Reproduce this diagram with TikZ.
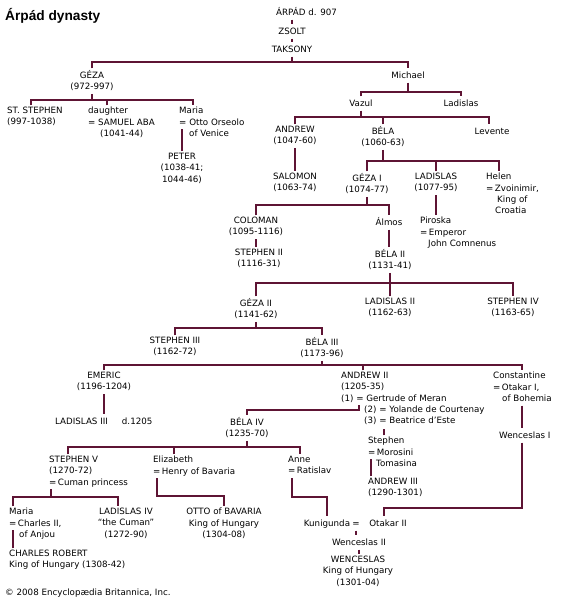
\documentclass[tikz,border=0pt]{standalone}
\usepackage{fontspec}
\setmainfont{DejaVu Sans}
\newfontfamily\titlefont{Liberation Sans}
\usetikzlibrary{calc}
\definecolor{lin}{RGB}{94,20,52}
\newcommand{\fsz}{\fontsize{8.7}{11.3}\selectfont}
\tikzset{
  basetext/.style={inner xsep=0pt, inner ysep=1.5pt, font=\fsz, yshift=6.6pt,
    execute at begin node={\rule{0pt}{8.3pt}},
    execute at end node={\rule[-2.6pt]{0pt}{2.6pt}}},
  C/.style={basetext, anchor=north, align=center},
  L/.style={basetext, anchor=north west, align=left},
  titletext/.style={anchor=base west, inner sep=0pt, font=\titlefont\fontsize{13.7}{16}\selectfont\bfseries},
  conn/.style={draw=lin, line width=2.4pt, line join=miter}
}
\begin{document}
\begin{tikzpicture}[x=1pt,y=-1pt]
\fill[white] (0,0) rectangle (560,600);
\useasboundingbox (0,0) rectangle (560,600);

\node[titletext] (title) at (5,20) {Árpád dynasty};
\node[L] (arpad) at (276,12) {ÁRPÁD d. 907};
\node[C] (zsolt) at (292,31) {ZSOLT};
\node[C] (taksony) at (292,49) {TAKSONY};
\node[C] (geza) at (92,75) {GÉZA\\(972-997)};
\node[C] (michael) at (408,75) {Michael};
\node[L] (ststephen) at (7,112) {ST. STEPHEN\\(997-1038)};
\node[L] (daughter) at (88,112) {daughter\\= SAMUEL ABA\\\hspace*{12pt}(1041-44)};
\node[L] (maria1) at (179,112) {Maria\\= Otto Orseolo\\\hspace*{10pt}of Venice};
\node[C] (peter) at (182,158) {PETER\\(1038-41;\\1044-46)};
\node[C] (vazul) at (361,103) {Vazul};
\node[C] (ladislasM) at (461,103) {Ladislas};
\node[C] (andrew1) at (295,131) {ANDREW\\(1047-60)};
\node[C] (bela1) at (383,131) {BÉLA\\(1060-63)};
\node[C] (levente) at (492,131) {Levente};
\node[C] (salomon) at (295,178) {SALOMON\\(1063-74)};
\node[C] (geza1) at (367,178) {GÉZA I\\(1074-77)};
\node[C] (ladislas1) at (436,178) {LADISLAS\\(1077-95)};
\node[L] (helen) at (486,178) {Helen\\=\,Zvoinimir,\\\hspace*{11pt}King of\\\hspace*{9pt}Croatia};
\node[C] (coloman) at (256,222) {COLOMAN\\(1095-1116)};
\node[C] (almos) at (389,222) {Álmos};
\node[L] (piroska) at (420,222) {Piroska\\=\,Emperor\\\hspace*{8pt}John Comnenus};
\node[C] (stephen2) at (259,254) {STEPHEN II\\(1116-31)};
\node[C] (bela2) at (390,254) {BÉLA II\\(1131-41)};
\node[C] (geza2) at (256,303) {GÉZA II\\(1141-62)};
\node[C] (ladislas2) at (390,303) {LADISLAS II\\(1162-63)};
\node[C] (stephen4) at (513,303) {STEPHEN IV\\(1163-65)};
\node[C] (stephen3) at (175,342) {STEPHEN III\\(1162-72)};
\node[C] (bela3) at (322,342) {BÉLA III\\(1173-96)};
\node[C] (emeric) at (104,377) {EMERIC\\(1196-1204)};
\node[L] (ladislas3) at (55,421) {LADISLAS III\hspace{14pt}d.1205};
\node[L] (andrew2) at (341,377) {ANDREW II\\(1205-35)\\(1) = Gertrude of Meran\\\hspace*{23pt}(2) = Yolande de Courtenay\\\hspace*{23pt}(3) = Beatrice d’Este};
\node[L] (constantine) at (493,377) {Constantine\\=\,Otakar I,\\\hspace*{9pt}of Bohemia};
\node[C] (bela4) at (247,422) {BÉLA IV\\(1235-70)};
\node[L] (wenceslas1) at (499,435) {Wenceslas I};
\node[L] (stephenM) at (368,442) {Stephen\\=\,Morosini\\\hspace*{8pt}Tomasina};
\node[L] (andrew3) at (368,483) {ANDREW III\\(1290-1301)};
\node[L] (stephen5) at (49,461) {STEPHEN V\\(1270-72)\\=\,Cuman princess};
\node[L] (elizabeth) at (153,461) {Elizabeth\\=\,Henry of Bavaria};
\node[L] (anne) at (288,461) {Anne\\=\,Ratislav};
\node[L] (maria2) at (9,513) {Maria\\=\,Charles II,\\\hspace*{10pt}of Anjou};
\node[C] (ladislas4) at (126,513) {LADISLAS IV\\“the Cuman”\\(1272-90)};
\node[C] (otto) at (224,513) {OTTO of BAVARIA\\King of Hungary\\(1304-08)};
\node[L] (charles) at (9,555) {CHARLES ROBERT\\King of Hungary (1308-42)};
\node[C] (kunigunda) at (327,523) {Kunigunda};
\node[C] (eq) at (356,523) {=};
\node[C] (otakar2) at (388,523) {Otakar II};
\node[C] (wenceslas2) at (359,542) {Wenceslas II};
\node[C] (wenceslas3) at (358,561) {WENCESLAS\\King of Hungary\\(1301-04)};
\node[L] (copy) at (5,592) {© 2008 Encyclopædia Britannica, Inc.};

% bus levels
\coordinate (bA) at (0,62);
\coordinate (bB) at (0,100);
\coordinate (bC) at (0,92);
\coordinate (bD) at (0,117);
\coordinate (bE) at (0,161);
\coordinate (bF) at (0,205);
\coordinate (bG) at (0,283);
\coordinate (bH) at (0,328);
\coordinate (bI) at (0,365);
\coordinate (bJ) at (0,447);
\coordinate (bK) at (0,497);
\coordinate (bL) at (0,496);
\coordinate (bW) at (0,508);
% drop points
\coordinate (dSt) at ($(ststephen.north west)+(24,0)$);
\coordinate (dDa) at ($(daughter.north west)+(19,0)$);
\coordinate (dMa) at ($(maria1.north west)+(14,0)$);
\coordinate (dLe) at ($(levente.north)+(-3,0)$);
\coordinate (dHe) at ($(helen.north west)+(13,0)$);
\coordinate (dAn2) at ($(andrew2.north west)+(22,0)$);
\coordinate (dCo) at ($(constantine.north west)+(29,0)$);
\coordinate (a2one) at ($(andrew2.north west)+(18,34.6)$);
\coordinate (a2three) at ($(stephenM.north west)+(16,0)$);
\coordinate (dWe) at ($(wenceslas1.north west)+(23,0)$);
\coordinate (dOt) at ($(otakar2.north)+(-4,0)$);
\coordinate (dA3) at ($(andrew3.north west)+(3,0)$);
\coordinate (dS5) at ($(stephen5.north west)+(19,0)$);
\coordinate (dEl) at ($(elizabeth.north west)+(21,0)$);
\coordinate (dAnne) at ($(anne.north west)+(12,0)$);
\coordinate (sS5) at ($(stephen5.south west)+(2,0)$);
\coordinate (dM2) at ($(maria2.north west)+(4,0)$);
\coordinate (dL4) at ($(ladislas4.north)+(-8,0)$);
\coordinate (dCh) at ($(charles.north west)+(4,0)$);
\coordinate (sEl) at ($(elizabeth.south west)+(4,0)$);
\coordinate (sAn) at ($(anne.south west)+(4,0)$);
\coordinate (dL3) at ($(ladislas3.north west)+(49,0)$);

\begin{scope}[conn]
\draw (arpad.south -| zsolt.north) -- (zsolt.north);
\draw (zsolt.south) -- (taksony.north);
\draw (taksony.south) -- (taksony.south |- bA);
\draw (geza.north) |- (michael.north |- bA) -- (michael.north);
\draw (geza.south) -- (geza.south |- bB);
\draw (dSt) |- (dMa |- bB) -- (dMa);
\draw (dDa) -- (dDa |- bB);
\draw (peter.north) -- ++(0,-22);
\draw (michael.south) -- (michael.south |- bC);
\draw (vazul.north) |- (ladislasM.north |- bC) -- (ladislasM.north);
\draw (vazul.south) -- (vazul.south |- bD);
\draw (andrew1.north) |- (dLe |- bD) -- (dLe);
\draw (bela1.north) -- (bela1.north |- bD);
\draw (andrew1.south) -- (salomon.north);
\draw (bela1.south) -- (bela1.south |- bE);
\draw (geza1.north) |- (dHe |- bE) -- (dHe);
\draw (ladislas1.north) -- (ladislas1.north |- bE);
\draw (geza1.south) -- (geza1.south |- bF);
\draw (coloman.north) |- (almos.north |- bF) -- (almos.north);
\draw (ladislas1.south) -- (ladislas1.south |- piroska.north);
\draw (coloman.south) -- (coloman.south |- stephen2.north);
\draw (almos.south) -- (almos.south |- bela2.north);
\draw (bela2.south) -- (bela2.south |- bG);
\draw (geza2.north) |- (stephen4.north |- bG) -- (stephen4.north);
\draw (ladislas2.north) -- (ladislas2.north |- bG);
\draw (geza2.south) -- (geza2.south |- bH);
\draw (stephen3.north) |- (bela3.north |- bH) -- (bela3.north);
\draw (bela3.south) -- (bela3.south |- bI);
\draw (emeric.north) |- (dCo |- bI) -- (dCo);
\draw (dAn2) -- (dAn2 |- bI);
\draw (emeric.south) -- (emeric.south |- dL3);
\draw (a2one) -- ++(0,5) -| (bela4.north);
\draw (a2three) -- ++(0,-6);
\draw (dCo |- constantine.south) -- (dWe);
\draw (dWe |- wenceslas1.south) |- (dOt |- bW) -- (dOt);
\draw (dA3) -- ++(0,-17);
\draw (bela4.south) -- (bela4.south |- bJ);
\draw (dS5) |- (dAnne |- bJ) -- (dAnne);
\draw (dEl) -- (dEl |- bJ);
\draw (sS5) -- (sS5 |- bK);
\draw (dM2) |- (dL4 |- bK) -- (dL4);
\draw (dCh) -- ++(0,-18);
\draw (sEl) |- (otto.north |- bL) -- (otto.north);
\draw (sAn) |- (kunigunda.north |- bK) -- (kunigunda.north);
\draw (eq.south) -- (eq.south |- wenceslas2.north);
\draw (wenceslas2.south) -- (wenceslas2.south |- wenceslas3.north);
\end{scope}
\end{tikzpicture}
\end{document}
